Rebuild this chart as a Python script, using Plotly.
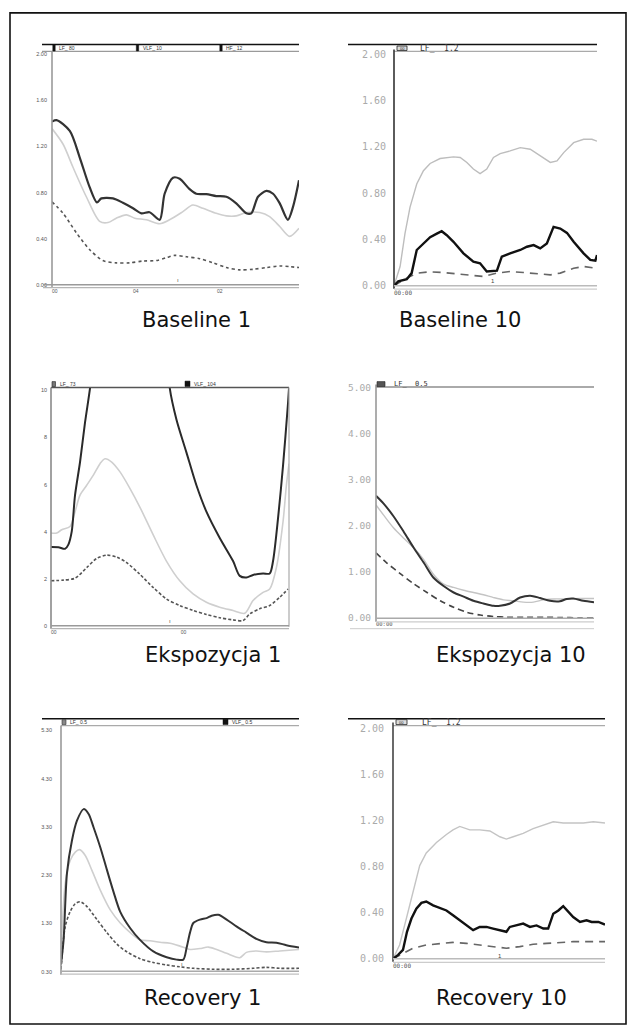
import plotly.graph_objects as go

W, H = 636, 1036

# ---------------- DATA (time in % of recording, values in arbitrary units) ----------------
# Baseline 1
b1_t_black = [0, 1.8, 7.2, 11.2, 15.2, 18.2, 20.0, 24.7, 28.7, 32.8, 36.2, 39.5, 43.6, 45.6, 49.0, 51.7,
              55.7, 58.4, 62.5, 66.5, 70.6, 74.6, 78.7, 80.7, 83.4, 86.8, 89.5, 92.2, 95.5, 97.6, 100]
b1_black = [1.416, 1.43, 1.336, 1.107, 0.85, 0.715, 0.75, 0.75, 0.712, 0.664, 0.62, 0.63, 0.564, 0.79, 0.93, 0.92,
            0.83, 0.79, 0.787, 0.77, 0.764, 0.707, 0.62, 0.62, 0.764, 0.815, 0.79, 0.707, 0.564, 0.678, 0.907]
b1_t_grey = [0, 4.5, 8.5, 13.9, 19.3, 22.7, 26.0, 30.1, 33.5, 38.2, 43.6, 47.6, 53.0, 57.0, 61.1, 66.5,
             70.6, 74.6, 78.7, 84.1, 88.1, 92.2, 96.2, 100]
b1_grey = [1.356, 1.22, 1.02, 0.764, 0.55, 0.54, 0.578, 0.607, 0.578, 0.564, 0.53, 0.564, 0.635, 0.692, 0.664, 0.62,
           0.598, 0.598, 0.627, 0.627, 0.592, 0.506, 0.42, 0.49]
b1_t_dash = [0, 4.5, 9.9, 15.2, 20.6, 26.0, 31.4, 36.8, 42.2, 46.3, 49.7, 54.4, 59.8, 65.2, 70.6, 76.0,
             81.4, 86.8, 92.2, 96.2, 100]
b1_dash = [0.72, 0.62, 0.45, 0.306, 0.21, 0.19, 0.19, 0.206, 0.21, 0.235, 0.255, 0.243, 0.226, 0.19, 0.149, 0.129,
           0.134, 0.149, 0.163, 0.157, 0.149]

# Baseline 10
b10_t_grey = [0, 3.0, 5.4, 7.9, 11.2, 14.5, 17.8, 22.7, 29.3, 32.6, 35.9, 39.1, 42.4, 45.7, 49.0, 52.3, 57.2,
              62.2, 67.1, 72.0, 77.0, 80.3, 83.6, 88.5, 93.4, 97.5, 100]
b10_grey = [0, 0.166, 0.45, 0.68, 0.88, 0.994, 1.057, 1.10, 1.114, 1.109, 1.066, 1.009, 0.97, 1.009, 1.109, 1.143,
            1.166, 1.194, 1.18, 1.123, 1.066, 1.08, 1.151, 1.237, 1.266, 1.266, 1.25]
b10_t_black = [0, 2.1, 6.3, 8.7, 11.2, 14.5, 17.8, 21.1, 23.5, 26.0, 29.3, 34.2, 39.1, 42.4, 45.7, 50.7, 53.1,
               57.2, 62.2, 65.5, 68.8, 72.0, 75.3, 78.6, 81.9, 85.2, 88.5, 93.4, 96.7, 99.2, 100]
b10_black = [0, 0.037, 0.057, 0.109, 0.309, 0.366, 0.42, 0.45, 0.471, 0.437, 0.38, 0.28, 0.209, 0.194, 0.123, 0.131,
             0.251, 0.28, 0.309, 0.337, 0.351, 0.323, 0.366, 0.509, 0.494, 0.457, 0.38, 0.28, 0.223, 0.217, 0.266]
b10_t_dash = [0, 6.3, 11.2, 17.8, 24.3, 30.9, 37.5, 44.1, 50.7, 57.2, 63.8, 70.4, 77.0, 81.9, 88.5, 93.4, 100]
b10_dash = [0, 0.066, 0.109, 0.12, 0.114, 0.103, 0.086, 0.08, 0.109, 0.123, 0.114, 0.103, 0.094, 0.109, 0.151,
            0.166, 0.151]

# Ekspozycja 1
e1_t_black = [0, 3.1, 5.9, 7.3, 8.7, 10.1, 12.2, 14.3, 16.4, 18.5, 48.5, 49.9, 52.7, 56.9, 61.1, 65.3, 70.9,
              76.5, 79.3, 82.1, 84.9, 89.1, 91.9, 93.3, 95.4, 97.5, 99.6, 100]
e1_black = [3.35, 3.34, 3.27, 3.45, 4.0, 5.55, 6.96, 8.64, 10.1, 12.0, 12.0, 10.1, 8.77, 7.37, 5.97, 4.85, 3.73,
            2.75, 2.12, 2.05, 2.16, 2.22, 2.22, 2.75, 4.57, 6.82, 9.48, 10.1]
e1_t_grey = [0, 2.4, 4.5, 8.0, 10.1, 12.2, 15.0, 17.8, 20.6, 22.7, 25.5, 29.0, 33.2, 37.6, 42.9, 48.5, 54.1,
             59.7, 65.3, 70.9, 76.5, 81.4, 84.9, 89.1, 91.9, 94.7, 97.5, 98.9, 100]
e1_grey = [3.94, 3.94, 4.08, 4.22, 4.85, 5.55, 5.97, 6.4, 6.89, 7.1, 6.96, 6.54, 5.83, 4.99, 3.87, 2.75, 1.91,
           1.35, 1.0, 0.79, 0.65, 0.53, 1.07, 1.42, 1.56, 2.47, 4.43, 5.97, 6.89]
e1_t_dash = [0, 5.2, 10.1, 15.0, 19.2, 23.4, 27.6, 31.8, 37.3, 42.9, 48.5, 54.1, 59.7, 65.3, 70.9, 76.5,
             80.7, 83.5, 87.7, 91.9, 96.1, 99.6]
e1_dash = [1.91, 1.94, 2.02, 2.47, 2.86, 3.0, 2.92, 2.68, 2.19, 1.63, 1.14, 0.86, 0.65, 0.48, 0.34, 0.25,
           0.22, 0.5, 0.72, 0.86, 1.21, 1.56]

# Ekspozycja 10
e10_t_black = [0, 3.5, 8.1, 12.7, 17.3, 22.0, 26.4, 31.0, 35.6, 40.2, 44.7, 49.3, 53.9, 56.9, 61.5, 66.1,
               70.7, 75.3, 79.8, 84.4, 87.5, 90.5, 95.1, 100]
e10_black = [2.65, 2.48, 2.2, 1.87, 1.52, 1.19, 0.87, 0.69, 0.55, 0.46, 0.37, 0.31, 0.26, 0.26, 0.31, 0.44,
             0.48, 0.43, 0.37, 0.36, 0.41, 0.42, 0.37, 0.34]
e10_t_grey = [0, 3.5, 8.1, 12.7, 17.3, 21.8, 26.4, 31.0, 35.6, 40.2, 44.7, 49.3, 53.9, 58.5, 63.1, 67.6,
              72.2, 76.8, 81.4, 87.5, 93.6, 100]
e10_grey = [2.45, 2.23, 1.95, 1.73, 1.52, 1.27, 0.94, 0.73, 0.66, 0.6, 0.55, 0.5, 0.44, 0.39, 0.37, 0.34,
            0.34, 0.39, 0.41, 0.41, 0.42, 0.42]
e10_t_dash = [0, 5.0, 11.1, 17.3, 23.4, 29.5, 35.6, 41.7, 47.8, 53.9, 60.0, 69.2, 78.3, 84.4, 93.6, 100]
e10_dash = [1.41, 1.19, 0.96, 0.74, 0.55, 0.37, 0.23, 0.12, 0.06, 0.03, 0.014, 0.01, 0.01, 0.008, 0.0, 0.0]

# Recovery 1
r1_t_black = [0, 1.1, 2.5, 4.6, 6.7, 9.5, 11.6, 13.7, 16.5, 19.3, 22.1, 24.9, 29.1, 33.2, 38.8, 44.4, 48.6,
              51.4, 52.8, 54.2, 55.6, 58.4, 61.2, 63.3, 66.1, 69.6, 73.7, 77.9, 82.1, 86.3, 90.5, 94.7, 100]
r1_black = [0.15, 0.67, 2.04, 2.72, 3.13, 3.37, 3.27, 2.99, 2.58, 2.11, 1.65, 1.24, 0.9, 0.66, 0.42, 0.30, 0.25,
            0.25, 0.5, 0.81, 1.01, 1.08, 1.11, 1.16, 1.18, 1.08, 0.94, 0.81, 0.68, 0.61, 0.6, 0.55, 0.5]
r1_t_grey = [0, 1.8, 3.9, 6.0, 7.8, 10.2, 13.0, 16.5, 20.7, 24.9, 29.1, 33.2, 37.4, 41.6, 45.8, 50.0, 54.2,
             58.4, 61.9, 65.4, 69.6, 75.1, 77.9, 82.1, 86.3, 91.9, 100]
r1_grey = [0.26, 1.84, 2.31, 2.48, 2.53, 2.41, 2.1, 1.69, 1.28, 1.01, 0.81, 0.66, 0.64, 0.61, 0.59, 0.53, 0.46,
           0.48, 0.51, 0.46, 0.38, 0.29, 0.4, 0.43, 0.41, 0.43, 0.46]
r1_t_dash = [0, 1.8, 3.9, 6.0, 8.1, 10.9, 15.1, 19.3, 23.5, 27.7, 33.2, 38.8, 44.4, 50.0, 55.6, 64.0, 72.3,
             80.7, 86.3, 91.9, 100]
r1_dash = [0.05, 0.94, 1.25, 1.41, 1.45, 1.35, 1.08, 0.81, 0.57, 0.41, 0.27, 0.19, 0.14, 0.1, 0.07, 0.05, 0.05,
           0.07, 0.09, 0.07, 0.07]

# Recovery 10
r10_t_grey = [0, 3.1, 6.3, 9.4, 12.6, 15.7, 20.5, 25.2, 28.3, 31.5, 36.2, 40.9, 45.7, 50.4, 53.5, 56.7, 61.4,
              66.1, 70.9, 75.6, 80.3, 85.0, 89.8, 94.5, 100]
r10_grey = [0, 0.12, 0.35, 0.58, 0.81, 0.92, 1.01, 1.08, 1.12, 1.15, 1.12, 1.12, 1.11, 1.06, 1.04, 1.06, 1.09,
            1.13, 1.16, 1.19, 1.18, 1.18, 1.18, 1.19, 1.18]
r10_t_black = [0, 2.4, 4.7, 6.6, 8.7, 11.0, 13.4, 15.7, 18.9, 22.0, 25.2, 28.3, 31.5, 34.6, 37.8, 40.9, 44.1,
               47.2, 50.4, 53.5, 55.1, 58.3, 61.4, 64.6, 67.7, 70.9, 73.2, 75.6, 78.0, 80.3, 82.7, 85.0, 88.2,
               91.3, 93.7, 96.9, 100]
r10_black = [0, 0.034, 0.077, 0.235, 0.35, 0.435, 0.486, 0.498, 0.464, 0.44, 0.42, 0.378, 0.335, 0.29, 0.249,
             0.277, 0.277, 0.263, 0.249, 0.235, 0.277, 0.29, 0.306, 0.277, 0.29, 0.263, 0.263, 0.392, 0.42, 0.458,
             0.406, 0.363, 0.32, 0.335, 0.32, 0.32, 0.298]
r10_t_dash = [0, 4.7, 9.4, 15.7, 22.0, 28.3, 34.6, 40.9, 47.2, 53.5, 59.8, 66.1, 72.4, 78.7, 85.0, 91.3, 100]
r10_dash = [0, 0.049, 0.092, 0.12, 0.134, 0.143, 0.134, 0.12, 0.106, 0.092, 0.106, 0.126, 0.134, 0.143, 0.149,
            0.149, 0.149]

captions = ["Baseline 1", "Baseline 10", "Ekspozycja 1", "Ekspozycja 10", "Recovery 1", "Recovery 10"]

# tick labels
b1_yticks = [0, 0.4, 0.8, 1.2, 1.6, 2.0]
b1_ytext = ["0.00", "0.40", "0.80", "1.20", "1.60", "2.00"]
e1_yticks = [0, 2, 4, 6, 8, 10]
e1_ytext = ["0", "2", "4", "6", "8", "10"]
e10_yticks = [0, 1, 2, 3, 4, 5]
e10_ytext = ["0.00", "1.00", "2.00", "3.00", "4.00", "5.00"]
r1_ytext = ["0.30", "1.30", "2.30", "3.30", "4.30", "5.30"]


def px(x):
    return x / W


def py(y):
    return 1 - y / H


fig = go.Figure()
shapes = []
annotations = []


def hline(x0, x1, y, color, width=1.0):
    shapes.append(dict(type="line", xref="paper", yref="paper", x0=px(x0), x1=px(x1), y0=py(y), y1=py(y),
                       line=dict(color=color, width=width)))


def vline(x, y0, y1, color, width=1.0):
    shapes.append(dict(type="line", xref="paper", yref="paper", x0=px(x), x1=px(x), y0=py(y0), y1=py(y1),
                       line=dict(color=color, width=width)))


def rect(x0, y0, x1, y1, fill, line="#222", lw=0.8):
    shapes.append(dict(type="rect", xref="paper", yref="paper", x0=px(x0), x1=px(x1), y0=py(y1), y1=py(y0),
                       fillcolor=fill, line=dict(color=line, width=lw)))


def label(x, y, text, size, color="#333", family="Liberation Sans", xanchor="left"):
    annotations.append(dict(x=px(x), y=py(y), xref="paper", yref="paper", text=text, showarrow=False,
                            xanchor=xanchor, yanchor="middle", font=dict(size=size, color=color, family=family)))


MONO = "DejaVu Sans Mono"

panels = [
    # key, x0,x1,y0(top),y1(bottom), yrange, yticks, ytext, tickfont size, font fam, tick color, standoff, xticks, xtext, xfs
    dict(n=1, box=(52, 299, 49, 282), yr=[0, 2.0], yt=b1_yticks, ytx=b1_ytext, fs=5.5, fam="Liberation Sans",
         col="#555", so=4, xt=[0, 32.8, 66.8], xtx=["00", "04", "02"], xfs=5, shape="spline"),
    dict(n=2, box=(394, 597, 49, 283), yr=[0, 2.0], yt=b1_yticks, ytx=b1_ytext, fs=10, fam=MONO,
         col="#aaa", so=7, xt=[0], xtx=["00:00"], xfs=6, shape="linear"),
    dict(n=3, box=(51, 289, 386, 627), yr=[0, 10.126], yt=e1_yticks, ytx=e1_ytext, fs=5.5, fam="Liberation Sans",
         col="#555", so=3, xt=[0, 54.5], xtx=["00", "00"], xfs=5, shape="spline"),
    dict(n=4, box=(376, 594, 386, 619), yr=[0, 5.0], yt=e10_yticks, ytx=e10_ytext, fs=9.5, fam=MONO,
         col="#aaa", so=4, xt=[0], xtx=["00:00"], xfs=5.5, shape="spline"),
    dict(n=5, box=(61, 299, 733, 977), yr=[0, 5.0], yt=e10_yticks, ytx=r1_ytext, fs=5.5, fam="Liberation Sans",
         col="#555", so=8, xt=[], xtx=[], xfs=5, shape="spline"),
    dict(n=6, box=(393, 605, 731, 964), yr=[0, 2.0], yt=b1_yticks, ytx=b1_ytext, fs=10, fam=MONO,
         col="#aaa", so=8, xt=[0], xtx=["00:00"], xfs=6, shape="linear"),
]

series = {
    1: [(b1_t_grey, b1_grey, "#cfcfcf", 1.6, "solid"), (b1_t_dash, b1_dash, "#555", 1.6, "dot"),
        (b1_t_black, b1_black, "#333", 2.2, "solid")],
    2: [(b10_t_grey, b10_grey, "#bdbdbd", 1.4, "solid"), (b10_t_dash, b10_dash, "#666", 1.6, "8px,6px"),
        (b10_t_black, b10_black, "#111", 2.4, "solid")],
    3: [(e1_t_grey, e1_grey, "#cfcfcf", 1.6, "solid"), (e1_t_dash, e1_dash, "#555", 1.6, "3px,2px"),
        (e1_t_black, e1_black, "#2a2a2a", 2.0, "solid")],
    4: [(e10_t_grey, e10_grey, "#c4c4c4", 1.4, "solid"), (e10_t_dash, e10_dash, "#444", 1.6, "6px,4px"),
        (e10_t_black, e10_black, "#333", 2.0, "solid")],
    5: [(r1_t_grey, r1_grey, "#cfcfcf", 1.6, "solid"), (r1_t_dash, r1_dash, "#555", 1.6, "3px,2px"),
        (r1_t_black, r1_black, "#333", 2.0, "solid")],
    6: [(r10_t_grey, r10_grey, "#c4c4c4", 1.4, "solid"), (r10_t_dash, r10_dash, "#666", 1.6, "8px,6px"),
        (r10_t_black, r10_black, "#111", 2.4, "solid")],
}

layout = dict(width=W, height=H, margin=dict(l=0, r=0, t=0, b=0), paper_bgcolor="white",
              plot_bgcolor="white", showlegend=False)

for p in panels:
    n = p["n"]
    x0, x1, y0, y1 = p["box"]
    xa = "xaxis" if n == 1 else f"xaxis{n}"
    ya = "yaxis" if n == 1 else f"yaxis{n}"
    xr = "x" if n == 1 else f"x{n}"
    yr = "y" if n == 1 else f"y{n}"
    layout[xa] = dict(domain=[px(x0), px(x1)], range=[0, 100], anchor=yr, showgrid=False, zeroline=False,
                      showline=False, ticks="", tickvals=p["xt"], ticktext=p["xtx"],
                      ticklabelposition="outside right", ticklabelstandoff=2,
                      tickfont=dict(size=p["xfs"], color="#555", family=p["fam"]), fixedrange=True)
    layout[ya] = dict(domain=[py(y1), py(y0)], range=p["yr"], anchor=xr, showgrid=False, zeroline=False,
                      showline=False, ticks="", tickvals=p["yt"], ticktext=p["ytx"], ticklabelstandoff=p["so"],
                      tickfont=dict(size=p["fs"], color=p["col"], family=p["fam"]), fixedrange=True)
    for t, v, c, w, d in series[n]:
        fig.add_trace(go.Scatter(x=t, y=v, mode="lines", xaxis=xr, yaxis=yr, hoverinfo="skip",
                                 line=dict(color=c, width=w, dash=d, shape=p["shape"], smoothing=0.8)))

# ---------------- decorations (frames of the original screenshots) ----------------
# outer frame
shapes.append(dict(type="rect", xref="paper", yref="paper", x0=px(10), x1=px(626), y0=py(1030), y1=py(7),
                   line=dict(color="#111", width=1.6), fillcolor="rgba(0,0,0,0)"))

# Panel 1 (Baseline 1)
hline(42, 299, 39, "#111", 1.5)
hline(42, 299, 46, "#9a9a9a", 1.2)
vline(52, 46, 285, "#9a9a9a", 1.6)
hline(43, 299, 282, "#9a9a9a", 1.5)
hline(43, 299, 285, "#b5b5b5", 1.2)
for mx in (54, 137.5, 221):
    rect(mx - 1.2, 39.5, mx + 1.2, 45.5, "#111", "#111", 0.5)
label(57, 42.5, "LF_ 80", 5, "#333")
label(141, 42.5, "VLF_ 10", 5, "#333")
label(224, 42.5, "HF_ 12", 5, "#333")
label(178, 277, "ı", 6, "#555", xanchor="center")

# Panel 2 (Baseline 10)
hline(348, 597, 39, "#111", 1.5)
hline(394, 597, 46, "#aaaaaa", 1.2)
vline(394, 44, 286, "#333", 1.6)
hline(394, 597, 283, "#bbbbbb", 1.5)
hline(394, 597, 286.5, "#cccccc", 1.2)
rect(397, 40.5, 407, 45, "#dddddd", "#222", 0.8)
label(402, 42.8, "00", 4, "#222", xanchor="center")
label(418, 42.5, "LF_  1.2", 8, "#333", family=MONO)
label(493, 278, "1", 6, "#444", xanchor="center")

# Panel 3 (Ekspozycja 1)
hline(51, 289, 386, "#555555", 1.6)
vline(289, 386, 628, "#aaaaaa", 1.2)
vline(51, 386, 630, "#8a8a8a", 1.6)
hline(51, 289, 627, "#9a9a9a", 1.5)
hline(51, 289, 630, "#b5b5b5", 1.2)
rect(52, 380, 55.5, 385, "#777", "#222", 0.6)
label(58, 382.5, "LF_ 73", 5, "#333")
rect(185, 379.5, 190, 385, "#111", "#111", 0.5)
label(192, 382.5, "VLF_ 104", 5, "#333")
label(170, 622, "ı", 6, "#555", xanchor="center")

# Panel 4 (Ekspozycja 10)
hline(376, 594, 385.5, "#aaaaaa", 2.0)
vline(376, 383, 623, "#999999", 1.6)
hline(376, 594, 619.5, "#aaaaaa", 1.5)
hline(376, 594, 623, "#cccccc", 1.2)
hline(350, 594, 630, "#cccccc", 1.0)
rect(377, 380, 385, 385, "#555", "#222", 0.6)
label(392, 382, "LF_  0.5", 7, "#333", family=MONO)

# Panel 5 (Recovery 1)
hline(42, 299, 721, "#111", 1.5)
hline(61, 299, 728, "#aaaaaa", 1.2)
vline(61, 728, 980, "#9a9a9a", 1.6)
hline(61, 299, 976.5, "#aaaaaa", 1.5)
hline(61, 299, 979.5, "#c0c0c0", 1.2)
rect(62, 722, 66, 727, "#888", "#333", 0.6)
label(68, 724.5, "LF_ 0.5", 5, "#333")
rect(223, 721.5, 228, 727, "#111", "#111", 0.5)
label(230, 724.5, "VLF_ 0.5", 5, "#333")
label(182, 969, "ı", 6, "#555", xanchor="center")

# Panel 6 (Recovery 10)
hline(348, 605, 721, "#111", 1.5)
hline(393, 605, 728, "#aaaaaa", 1.2)
vline(393, 725, 967, "#444", 1.6)
hline(393, 605, 964, "#bbbbbb", 1.5)
hline(393, 605, 967.5, "#cccccc", 1.2)
rect(396, 722, 407, 727, "#dddddd", "#222", 0.8)
label(401.5, 724.7, "00", 4, "#222", xanchor="center")
label(420, 724.5, "LF_  1.2", 8, "#333", family=MONO)
label(500, 961, "1", 6, "#444", xanchor="center")

# captions
cap_pos = [(196, 318), (460, 318), (213, 657), (511, 657), (202, 1004), (501, 1004)]
for (cx, cy), txt in zip(cap_pos, captions):
    label(cx, cy, txt, 21, "#111", family="DejaVu Sans", xanchor="center")

layout["shapes"] = shapes
layout["annotations"] = annotations
fig.update_layout(**layout)
fig.write_html("out.html")
